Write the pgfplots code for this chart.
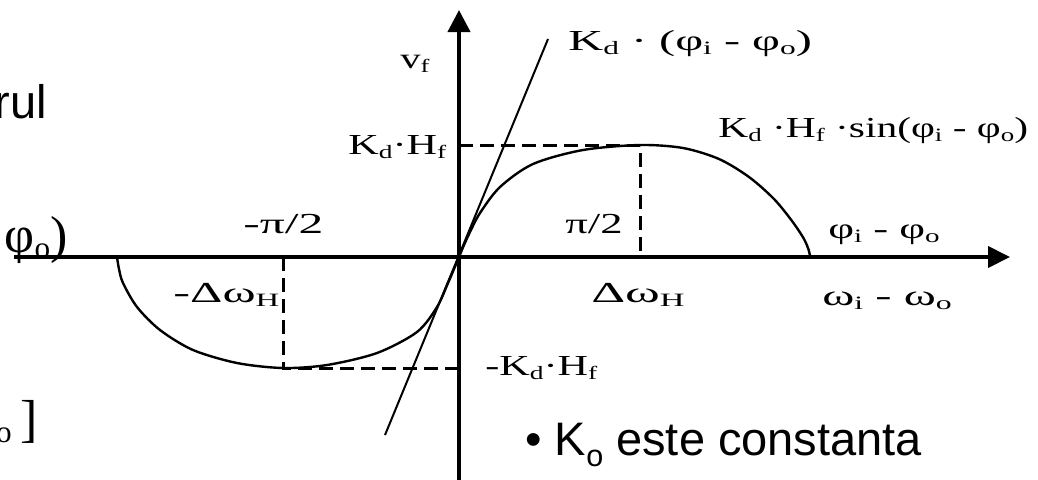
\documentclass[border=0pt]{standalone}
\usepackage{fontspec}
\usepackage{graphicx}
\usepackage{pgfplots}
\pgfplotsset{compat=1.18}
\usetikzlibrary{arrows.meta}
\setmainfont{Liberation Serif}
\newfontfamily\tms[FakeStretch=1.4]{Liberation Serif}
\newfontfamily\rmn{Liberation Serif}
\newfontfamily\arl{Liberation Sans}
\newcommand\lbl{\tms\fontsize{14.5}{17}\selectfont}
\newcommand\sub[1]{\raisebox{-0.15em}{\scalebox{0.65}{#1}}}
\newcommand\hs[2]{\scalebox{#1}[1]{#2}}

\begin{document}
\begin{tikzpicture}
\begin{axis}[
  scale only axis, width=519pt, height=239.5pt,
  xmin=-459, xmax=579, ymin=-222, ymax=257,
  hide axis, clip=false,
]
% coordinate axes
\addplot[black, line width=2pt, -{Triangle[length=11pt,width=10.5pt]}]
  coordinates {(-445,0) (551,0)};
\addplot[black, line width=2pt, -{Triangle[length=11pt,width=11pt]}]
  coordinates {(0,-240) (0,247)};
% linear approximation around the origin
\addplot[black, line width=1pt] coordinates {(-74,-178) (89,218)};
% guide lines to the extrema
\addplot[black, line width=1.5pt, dash pattern=on 7pt off 3.5pt]
  coordinates {(0,112) (181,112) (181,0)};
\addplot[black, line width=1.5pt, dash pattern=on 7pt off 3.5pt]
  coordinates {(-176,0) (-176,-111) (0,-111)};
% phase detector characteristic
\addplot[black, line width=1.2pt, smooth, tension=0.5] coordinates {
  (-342,0) (-340,-12) (-336,-26) (-322,-50) (-299,-73) (-266,-93)
  (-222,-106) (-176,-111) (-132,-108) (-82,-96) (-42,-75) (-22,-50)
  (-11,-26) (-5,-12) (0,0)
  (5,12) (11,25) (21,44) (41,70) (74,93) (124,107) (181,112) (224,109)
  (260,98) (290,80) (315,58) (333,36) (345,18) (350,6) (351,0)};

\node[inner sep=0pt, anchor=base west] at (axis cs:-59,189) {\lbl v\sub{f}};
\node[inner sep=0pt, anchor=base west] at (axis cs:109,207) {\lbl\hs{1.19}{K\sub{d} · (φ\sub{i} - φ\sub{o})}};
\node[inner sep=0pt, anchor=base west] at (axis cs:-111,103) {\lbl\hs{1.04}{K\sub{d}·H\sub{f}}};
\node[inner sep=0pt, anchor=base west] at (axis cs:259,120) {\lbl\hs{1.02}{K\sub{d} ·H\sub{f} ·sin(φ\sub{i} - φ\sub{o})}};
\node[inner sep=0pt, anchor=base west] at (axis cs:-216,24) {\lbl\hs{1.22}{-π/2}};
\node[inner sep=0pt, anchor=base west] at (axis cs:106,24) {\lbl\hs{1.1}{π/2}};
\node[inner sep=0pt, anchor=base west] at (axis cs:369,19) {\lbl\hs{1.1}{φ\sub{i} - φ\sub{o}}};
\node[inner sep=0pt, anchor=base west] at (axis cs:-286,-45) {\lbl\hs{1.24}{-Δω\sub{H}}};
\node[inner sep=0pt, anchor=base] at (axis cs:179,-45) {\lbl\hs{1.3}{Δω\sub{H}}};
\node[inner sep=0pt, anchor=base west] at (axis cs:363,-48) {\lbl\hs{1.2}{ω\sub{i} - ω\sub{o}}};
\node[inner sep=0pt, anchor=base west] at (axis cs:26,-118) {\lbl\hs{1.04}{-K\sub{d}·H\sub{f}}};
\node[inner sep=0pt, anchor=base west] at (axis cs:66,-198)
  {\arl\fontsize{23.5}{28}\selectfont •~K\raisebox{-0.25em}{\scalebox{0.65}{o}} este constanta};
% slide text running in from the left
\node[inner sep=0pt, anchor=base east] at (axis cs:-412,139) {\arl\fontsize{23.5}{28}\selectfont rul};
\node[inner sep=0pt, anchor=base east] at (axis cs:-391,5)
  {\rmn\fontsize{26}{30}\selectfont φ\raisebox{-0.12em}{\scalebox{0.6}{o}})};
\node[inner sep=0pt, anchor=base east] at (axis cs:-421,-179)
  {\rmn\fontsize{26}{30}\selectfont φ\raisebox{-0.12em}{\scalebox{0.6}{o}}\,]};
\end{axis}
\pgfresetboundingbox
\useasboundingbox (current axis.south west) rectangle (current axis.north east);
\end{tikzpicture}
\end{document}
